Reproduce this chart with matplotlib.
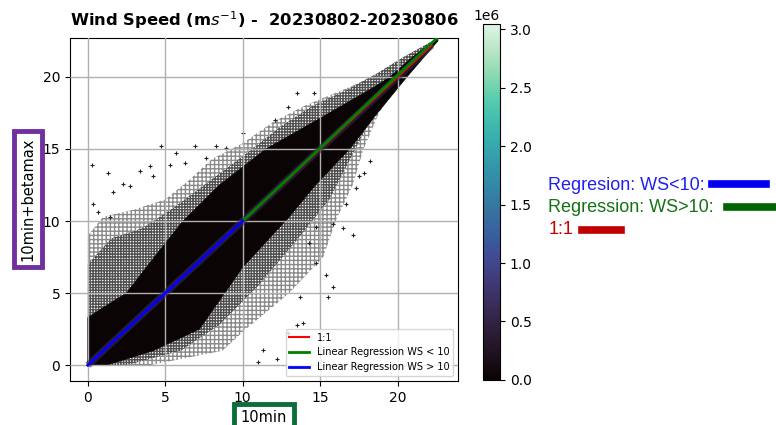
import numpy as np
import matplotlib
matplotlib.use("Agg")
import matplotlib.pyplot as plt
from matplotlib.lines import Line2D
from matplotlib.colors import Normalize
from matplotlib.cm import ScalarMappable
import seaborn as sns

# outer edge of the scattered cloud (10min, 10min+betamax) in m/s
cloud_x = [0.0, 4.0, 8.7, 10.2, 13.0, 15.2, 16.0, 17.1, 17.8, 18.8, 20.3, 22.6,
           22.6, 20.0, 18.0, 16.0, 14.0, 12.0, 10.0, 8.0, 6.5, 5.0, 3.0, 1.0, 0.0]
cloud_y = [0.0, 0.0, 1.0, 2.5, 5.0, 7.5, 10.0, 12.5, 15.0, 17.5, 20.0, 22.5,
           22.7, 21.0, 19.8, 18.9, 18.0, 16.9, 15.4, 14.3, 12.8, 11.5, 10.8, 10.3, 9.0]

# crowded ring just outside the core
ring_x = [0.0, 2.5, 6.0, 8.5, 11.0, 13.6, 15.6, 16.8, 18.0, 19.6, 22.6,
          22.6, 20.4, 18.6, 16.5, 14.5, 12.5, 10.0, 8.0, 5.5, 3.5, 1.5, 0.0]
ring_y = [0.0, 0.0, 1.0, 2.8, 5.5, 8.8, 11.5, 14.0, 16.5, 19.0, 22.5,
          22.7, 21.4, 20.2, 19.0, 18.0, 16.6, 14.5, 12.9, 10.9, 9.5, 8.8, 7.0]

# densest part of the cloud
core_x = [0.0, 1.2, 4.2, 7.2, 10.0, 13.0, 14.7, 16.9, 18.7, 20.6, 22.6,
          22.6, 21.0, 19.5, 18.5, 15.6, 11.5, 8.5, 6.15, 4.3, 2.5, 1.0, 0.0]
core_y = [0.0, 0.0, 1.0, 2.5, 6.8, 10.3, 12.5, 15.0, 17.5, 20.0, 22.5,
          22.7, 21.4, 20.0, 19.3, 17.5, 15.0, 12.5, 10.0, 7.5, 5.0, 4.0, 3.3]

# isolated samples away from the cloud
out_x = [0.30, 1.31, 2.28, 3.35, 4.0, 4.75, 5.72, 6.9, 7.66, 8.3, 8.95, 10.0, 12.06,
         12.9, 13.5, 14.6, 0.67, 0.34, 1.63, 2.7, 4.2, 5.3, 6.26, 1.42,
         17.1, 16.5, 15.8, 15.5, 13.9, 13.5, 12.2, 11.3, 14.75, 15.8, 17.5, 17.8,
         17.3, 14.3, 15.4, 13.7, 12.9, 16.7, 18.2, 14.75, 11.0]
out_y = [13.9, 13.3, 12.6, 13.5, 13.8, 15.2, 14.7, 15.2, 14.35, 15.2, 15.05, 16.1, 17.0,
         17.9, 18.9, 18.9, 10.6, 11.2, 12.0, 12.4, 13.1, 13.9, 14.0, 10.3,
         9.0, 9.5, 5.4, 4.75, 2.9, 2.8, 0.46, 1.04, 9.6, 9.8, 13.1, 13.3,
         12.3, 8.45, 6.25, 4.75, 2.2, 11.2, 14.2, 7.06, 0.2]

# fitted lines
line_11 = [0.0, 22.2]
lr_low_x = [0.0, 10.0]
lr_low_y = [0.0, 10.0]
lr_high_x = [10.0, 22.6]
lr_high_y = [10.0, 22.75]

count_max = 3.045e6
cb_ticks = [0, 0.5e6, 1.0e6, 1.5e6, 2.0e6, 2.5e6, 3.0e6]

cmap = sns.color_palette("mako", as_cmap=True)
plt.rcParams['hatch.linewidth'] = 1.0

fig = plt.figure(figsize=(7.76, 4.25), dpi=100)
ax = fig.add_axes([0.0902, 0.1035, 0.5, 0.807])

ax.fill(cloud_x, cloud_y, facecolor="white", edgecolor="#8a8a8a", hatch="++++",
        linewidth=0, zorder=1)
ax.fill(ring_x, ring_y, facecolor="white", edgecolor="#505050", hatch="++++++",
        linewidth=0, zorder=1.1)
ax.fill(core_x, core_y, facecolor="#0b0405", edgecolor="#0b0405", linewidth=0.5, zorder=1.2)
ax.plot(out_x, out_y, "+", color="#222222", markersize=3, mew=0.8, zorder=1.3)

# density ridge along the diagonal
ax.plot(line_11, line_11, color=cmap(0.2), lw=5, alpha=0.6, zorder=2.6, solid_capstyle="butt")

ax.plot(line_11, line_11, color="red", lw=1.5, label="1:1", zorder=3)
ax.plot(lr_high_x, lr_high_y, color="green", lw=2, label="Linear Regression WS < 10", zorder=3.1)
ax.plot(lr_low_x, lr_low_y, color="blue", lw=2, label="Linear Regression WS > 10", zorder=3.1)

ax.set_xlim(-1.15, 23.9)
ax.set_ylim(-1.1, 22.7)
ax.set_xticks([0, 5, 10, 15, 20])
ax.set_yticks([0, 5, 10, 15, 20])
ax.set_axisbelow(False)
ax.grid(True, color="#b0b0b0", lw=1)
ax.legend(loc="lower right", fontsize=7)

ax.set_title("Wind Speed (m$s^{-1}$) -  20230802-20230806", fontsize=11.8,
             fontweight="bold", pad=9)
ax.set_xlabel("10min", fontsize=10.5,
              bbox=dict(boxstyle="square,pad=0.45", fc="white", ec="#0b6e3a", lw=3.5))
ax.xaxis.set_label_coords(0.5, -0.085)
ax.set_ylabel("10min+betamax", fontsize=10.5,
              bbox=dict(boxstyle="square,pad=0.45", fc="white", ec="#7030a0", lw=3.5))
ax.yaxis.set_label_coords(-0.09, 0.53)

cax = fig.add_axes([0.622, 0.106, 0.0223, 0.8376])
sm = ScalarMappable(norm=Normalize(0, count_max), cmap=cmap)
cb = fig.colorbar(sm, cax=cax, ticks=cb_ticks)

# key for the fitted lines
fig.text(548 / 776, 1 - 185 / 425, "Regresion: WS<10:", color="#2020f0",
         fontsize=13, va="center", family="Liberation Sans")
fig.text(548 / 776, 1 - 207 / 425, "Regression: WS>10:", color="#137313",
         fontsize=13, va="center", family="Liberation Sans")
fig.text(549 / 776, 1 - 229 / 425, "1:1", color="#c80000",
         fontsize=13, va="center", family="Liberation Sans")
fig.add_artist(Line2D([712 / 776, 766 / 776], [1 - 184 / 425] * 2, color="#0000ee",
                      lw=5.5, transform=fig.transFigure))
fig.add_artist(Line2D([727 / 776, 776 / 776], [1 - 207 / 425] * 2, color="#006400",
                      lw=5.5, transform=fig.transFigure))
fig.add_artist(Line2D([582 / 776, 621 / 776], [1 - 230 / 425] * 2, color="#c00000",
                      lw=5.5, transform=fig.transFigure))

fig.savefig("out.png", dpi=100)
